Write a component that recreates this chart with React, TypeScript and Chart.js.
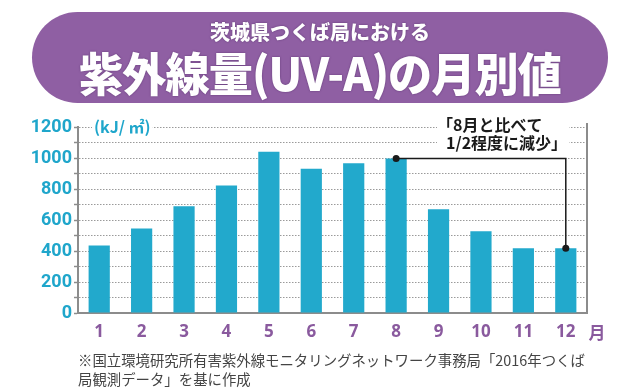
import React, { useEffect, useRef } from "react";
import { Chart, registerables } from "chart.js";

Chart.register(...registerables);

const months = ["1", "2", "3", "4", "5", "6", "7", "8", "9", "10", "11", "12"];
const uvaValues = [435, 545, 688, 822, 1040, 930, 966, 996, 670, 528, 418, 418];
const yTickLabels = [0, 200, 400, 600, 800, 1000, 1200];
const titleLine1 = "茨城県つくば局における";
const titleLine2 = "紫外線量(UV-A)の月別値";
const unitLabel = "(kJ/ ㎡)";
const monthUnit = "月";
const noteLines = ["「8月と比べて", "1/2程度に減少」"];
const footnote1 = "※国立環境研究所有害紫外線モニタリングネットワーク事務局「2016年つくば";
const footnote2 = "局観測データ」を基に作成";

const BAR = "#22A9CC";
const CYAN = "#1FA6CB";
const PURPLE = "#8A5A9E";
const AXIS = "#8c8c8c";
const JP = "'Noto Sans CJK JP', 'Noto Sans', sans-serif";

const overlayPlugin = {
  id: "overlay",
  afterDraw(chart: any) {
    const ctx = chart.ctx;
    const area = chart.chartArea;
    const meta = chart.getDatasetMeta(0);
    ctx.save();
    // right border
    ctx.strokeStyle = AXIS;
    ctx.lineWidth = 2;
    ctx.beginPath();
    ctx.moveTo(area.right, area.top - 4);
    ctx.lineTo(area.right, area.bottom);
    ctx.stroke();

    // unit label
    ctx.font = `bold 16px ${JP}`;
    ctx.textBaseline = "middle";
    ctx.textAlign = "left";
    const uw = ctx.measureText(unitLabel).width;
    ctx.fillStyle = "#ffffff";
    ctx.fillRect(area.left + 14, area.top - 9, uw + 4, 18);
    ctx.fillStyle = CYAN;
    ctx.fillText(unitLabel, area.left + 16, area.top);

    // month unit
    ctx.font = `bold 17px ${JP}`;
    ctx.fillStyle = PURPLE;
    ctx.textAlign = "center";
    ctx.fillText(monthUnit, area.right + 10, 333);

    // annotation
    const e8 = meta.data[7];
    const e12 = meta.data[11];
    ctx.strokeStyle = "#1a1a1a";
    ctx.lineWidth = 1.5;
    ctx.beginPath();
    ctx.moveTo(e8.x, e8.y);
    ctx.lineTo(e12.x, e8.y);
    ctx.lineTo(e12.x, e12.y);
    ctx.stroke();
    ctx.fillStyle = "#1a1a1a";
    [e8, e12].forEach((e: any) => {
      ctx.beginPath();
      ctx.arc(e.x, e.y, 3.5, 0, Math.PI * 2);
      ctx.fill();
    });

    ctx.font = `bold 16px ${JP}`;
    ctx.textAlign = "left";
    const w1 = ctx.measureText(noteLines[0]).width;
    const w2 = ctx.measureText(noteLines[1]).width;
    ctx.fillStyle = "#ffffff";
    ctx.fillRect(437, area.top - 9, Math.max(437 + w1, 446 + w2) - 437 + 2, 37);
    ctx.fillStyle = "#1a1a1a";
    ctx.fillText(noteLines[0], 437, 125);
    ctx.fillText(noteLines[1], 446, 143);
    ctx.restore();
  },
};

export default function App() {
  const canvasRef = useRef<HTMLCanvasElement | null>(null);

  useEffect(() => {
    if (!canvasRef.current) return;
    const chart = new Chart(canvasRef.current, {
      type: "bar",
      data: {
        labels: months,
        datasets: [
          {
            data: uvaValues,
            backgroundColor: BAR,
            borderWidth: 0,
            categoryPercentage: 1,
            barPercentage: 0.5,
          },
        ],
      },
      options: {
        responsive: false,
        animation: false,
        layout: { padding: { top: 127, right: 53, bottom: 0, left: 0 } },
        plugins: {
          legend: { display: false },
          tooltip: { enabled: false },
          title: { display: false },
        },
        scales: {
          x: {
            grid: { display: false, drawTicks: false },
            border: { display: true, color: AXIS, width: 2 },
            ticks: {
              color: PURPLE,
              font: { family: "'Noto Sans', sans-serif", weight: "bold", size: 17 },
              padding: 9,
              maxRotation: 0,
            },
            afterFit: (scale: any) => {
              scale.height = 76;
            },
          },
          y: {
            min: 0,
            max: 1200,
            z: 1,
            ticks: {
              stepSize: 100,
              autoSkip: false,
              color: CYAN,
              padding: 2,
              font: { family: "'Liberation Sans Narrow', 'Roboto', sans-serif", weight: "bold", size: 18 },
              callback: (v: any) => (yTickLabels.includes(Number(v)) ? String(v) : ""),
            },
            grid: {
              color: (c: any) => (c.tick && c.tick.value === 0 ? "rgba(0,0,0,0)" : "#9a9a9a"),
              lineWidth: 1,
              drawTicks: true,
              tickLength: 4,
              tickColor: AXIS,
              tickWidth: 1.5,
              tickBorderDash: [],
            },
            border: { display: true, color: AXIS, width: 2, dash: [1.5, 1.5] },
            afterFit: (scale: any) => {
              scale.width = 78;
            },
          },
        },
      },
      plugins: [overlayPlugin],
    });
    return () => chart.destroy();
  }, []);

  return (
    <div style={{ position: "absolute", left: 0, top: 0, width: 640, height: 389, background: "#ffffff", overflow: "hidden" }}>
      <canvas ref={canvasRef} width={640} height={389} style={{ position: "absolute", left: 0, top: 0, width: 640, height: 389 }} />
      <div
        style={{
          position: "absolute",
          left: 32,
          top: 12,
          width: 576,
          height: 91,
          borderRadius: 46,
          background: "#8F5FA3",
        }}
      />
      <div
        style={{
          position: "absolute",
          left: 0,
          width: 640,
          top: 20,
          height: 24,
          lineHeight: "24px",
          textAlign: "center",
          color: "#fff",
          fontFamily: JP,
          fontWeight: 900,
          fontSize: 20,
          textShadow: "0 0 2px #5b3470",
        }}
      >
        {titleLine1}
      </div>
      <div
        style={{
          position: "absolute",
          left: 0,
          width: 640,
          top: 44,
          height: 54,
          lineHeight: "54px",
          textAlign: "center",
          color: "#fff",
          fontFamily: JP,
          fontWeight: 900,
          fontSize: 46,
          letterSpacing: -1,
          textShadow: "0 0 2px #5b3470",
          transform: "scaleX(0.96)",
        }}
      >
        {titleLine2}
      </div>
      <div
        style={{
          position: "absolute",
          left: 78,
          top: 350,
          fontFamily: JP,
          fontSize: 14.4,
          lineHeight: "19px",
          color: "#444",
          whiteSpace: "nowrap",
        }}
      >
        <div>{footnote1}</div>
        <div>{footnote2}</div>
      </div>
    </div>
  );
}
